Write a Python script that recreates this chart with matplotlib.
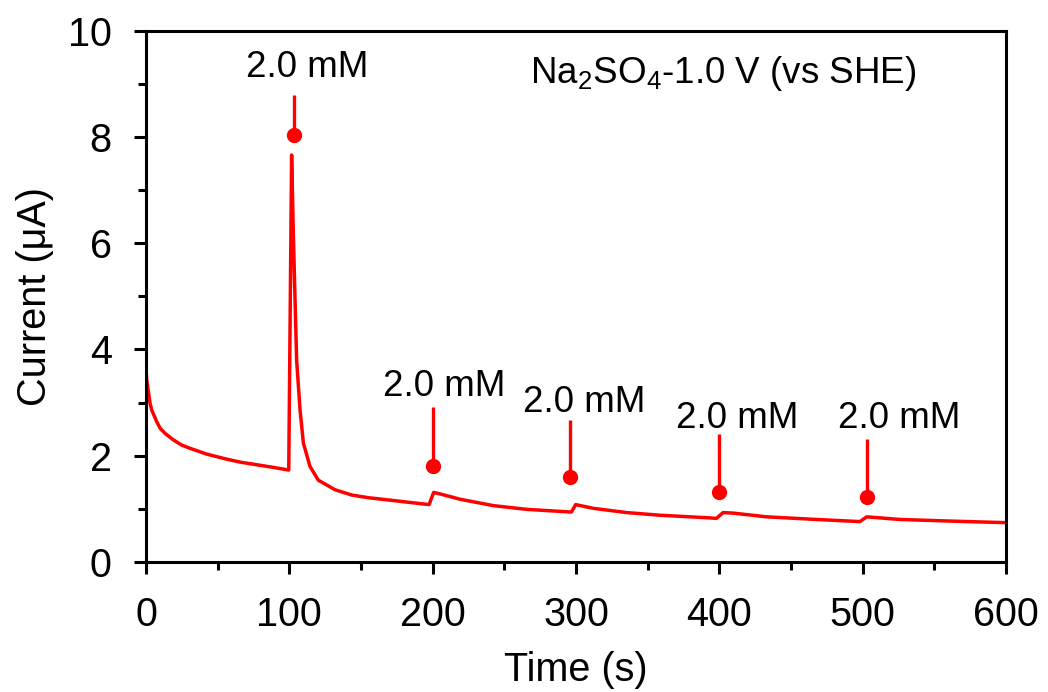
import matplotlib
matplotlib.use("Agg")
import matplotlib.pyplot as plt
from matplotlib.ticker import MultipleLocator

plt.rcParams['font.family'] = ['Liberation Sans', 'DejaVu Sans']
plt.rcParams['mathtext.fontset'] = 'custom'
plt.rcParams['mathtext.rm'] = 'Liberation Sans'
plt.rcParams['mathtext.it'] = 'Liberation Sans:italic'

# current trace, read point by point
time_s = [0, 0.5, 2.8, 4, 7.5, 9.8, 13.3, 19, 24.9, 30.7, 42.4, 54, 65.6, 77.3, 88.9, 99.6,
          101.6, 102.9, 105.1, 107.5, 109.8, 114.4, 120.2, 131.9, 143.5,
          155.1, 171.5, 184.3, 197.5,
          200.7, 205.3, 219.3, 242.5, 265.8, 296.8,
          299.8, 312, 335.3, 358.5, 393.4, 398,
          402.6, 409.6, 432.9, 467.8, 498.1,
          502.8, 526.1, 561, 600]
current_uA = [3.65, 3.43, 2.99, 2.86, 2.64, 2.52, 2.42, 2.30, 2.20, 2.14, 2.03, 1.95, 1.88, 1.83, 1.78, 1.73,
              7.66, 6.06, 3.80, 2.86, 2.24, 1.80, 1.54, 1.36, 1.26,
              1.21, 1.16, 1.12, 1.08,
              1.31, 1.28, 1.18, 1.06, 0.99, 0.94,
              1.08, 1.01, 0.93, 0.88, 0.83, 0.82,
              0.93, 0.92, 0.85, 0.80, 0.76,
              0.85, 0.80, 0.77, 0.74]

# injection markers
inject_t = [103, 200.5, 296, 399.5, 503]
dot_I = [8.03, 1.81, 1.60, 1.31, 1.23]
stem_top = [8.79, 2.92, 2.67, 2.41, 2.32]
label_t = [112.4, 208, 305.6, 412.5, 525.3]
label_I = [9.13, 3.13, 2.82, 2.53, 2.53]
label_txt = '2.0 mM'

red = '#ff0000'

fig = plt.figure(figsize=(10.48, 6.92), dpi=100)
ax = fig.add_axes([0.1393, 0.1879, 0.8206, 0.7677])

ax.plot(time_s, current_uA, color=red, lw=2.5)

for t, d, top, lt, li in zip(inject_t, dot_I, stem_top, label_t, label_I):
    ax.plot([t, t], [d, top], color=red, lw=2.4, solid_capstyle='butt')
    ax.plot(t, d, 'o', color=red, ms=10)
    ax.text(lt, li, label_txt, ha='center', va='baseline', fontsize=26.5)

ax.text(402.8, 9.01, r'Na$_2$SO$_4$-1.0 V (vs SHE)', ha='center', va='baseline',
        fontsize=26.5)

ax.set_xlim(0, 600)
ax.set_ylim(0, 10)
ax.xaxis.set_major_locator(MultipleLocator(100))
ax.xaxis.set_minor_locator(MultipleLocator(50))
ax.yaxis.set_major_locator(MultipleLocator(2))
ax.yaxis.set_minor_locator(MultipleLocator(1))
ax.tick_params(which='both', direction='out', width=2.2, labelsize=28.5, pad=16)
ax.tick_params(which='major', length=8.6)
ax.tick_params(which='minor', length=6)
for s in ax.spines.values():
    s.set_linewidth(2.2)

ax.set_xlabel('Time (s)', fontsize=28.5, labelpad=12)
ax.set_ylabel('Current (μA)', fontsize=28.5, labelpad=10)

fig.savefig('out.png', dpi=100)
